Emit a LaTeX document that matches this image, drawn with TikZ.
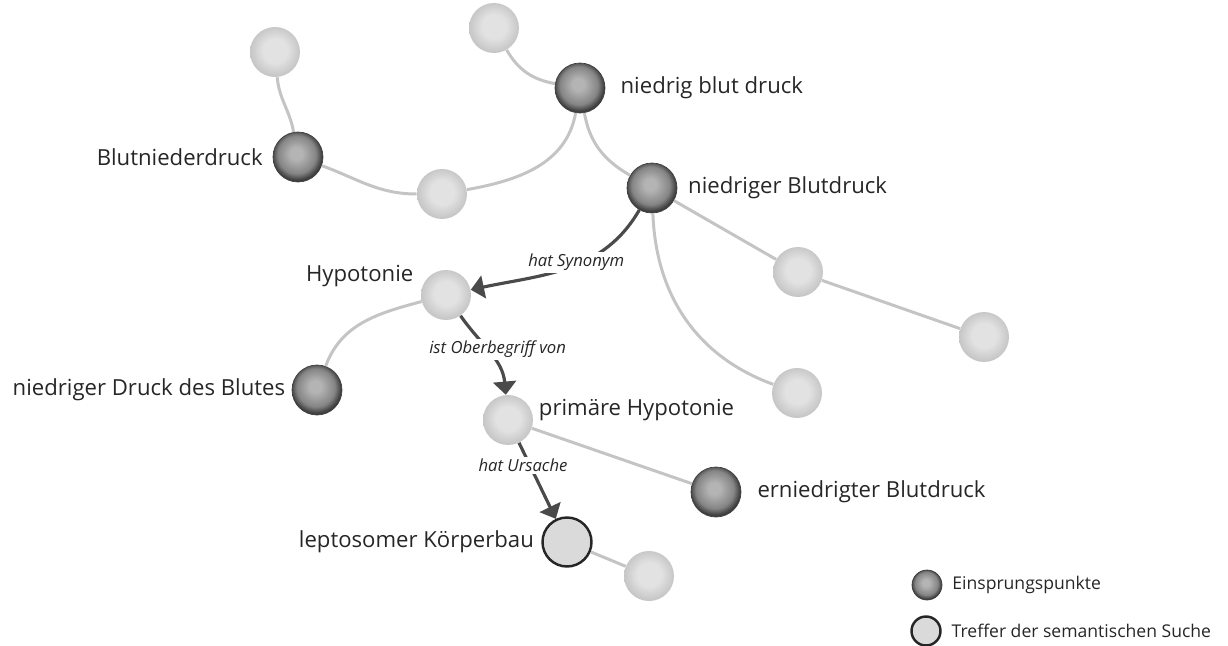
\documentclass[tikz,border=0pt]{standalone}
\usepackage{fontspec}
\setmainfont{Open Sans}
\usepackage{xcolor}
\definecolor{darkhi}{HTML}{B4B4B4}
\definecolor{darkmid}{HTML}{858585}
\definecolor{darkrim}{HTML}{3E3E3E}
\definecolor{lighthi}{HTML}{E2E2E2}
\definecolor{lightrim}{HTML}{C6C6C6}
\definecolor{hitfill}{HTML}{DADADA}
\definecolor{edgegray}{HTML}{C4C4C4}
\definecolor{arrgray}{HTML}{4A4A4A}
\definecolor{textgray}{HTML}{262626}
\usetikzlibrary{arrows.meta, positioning}
\pgfdeclareradialshading{darkball}{\pgfpoint{-2bp}{4bp}}{color(0bp)=(darkhi); color(6bp)=(darkhi); color(19bp)=(darkmid); color(25bp)=(darkrim); color(50bp)=(darkrim)}
\pgfdeclareradialshading{lightball}{\pgfpoint{0bp}{2bp}}{color(0bp)=(lighthi); color(12bp)=(lighthi); color(25bp)=(lightrim); color(50bp)=(lightrim)}

\begin{document}
\begin{tikzpicture}[x=0.02cm, y=-0.02cm,
  dark/.style={circle, minimum size=1cm, inner sep=0pt, shade, shading=darkball, draw=darkrim, line width=0.4pt},
  light/.style={circle, minimum size=1cm, inner sep=0pt, shade, shading=lightball},
  hitnode/.style={circle, minimum size=0.98cm, inner sep=0pt, fill=hitfill, draw=black!85, line width=1.4pt},
  edge/.style={draw=edgegray, line width=1.7pt},
  arr/.style={draw=arrgray, line width=1.8pt, -{Triangle[length=7.5pt, width=13pt]}},
  lbl/.style={font=\fontsize{12.6}{15}\selectfont, text=textgray, inner sep=0pt},
  rel/.style={font=\fontsize{9.5}{11}\selectfont\itshape, text=textgray, fill=white, inner sep=1pt},
  leg/.style={font=\fontsize{10}{12}\selectfont, text=textgray, inner sep=0pt}]

\useasboundingbox (0,0) rectangle (1228,646);

% Knoten
\node[light] (l1) at (275,52) {};
\node[light] (l2) at (494,28) {};
\node[dark] (d1) at (580,88) {};
\node[dark] (d2) at (298,157) {};
\node[light] (l3) at (442,194) {};
\node[dark] (d3) at (652,188) {};
\node[light] (l4) at (446,295) {};
\node[light] (l5) at (798,272) {};
\node[light] (l6) at (984,337) {};
\node[light] (l7) at (797,393) {};
\node[dark] (d4) at (317,390) {};
\node[light] (l8) at (508,420) {};
\node[dark] (d5) at (716,492) {};
\node[hitnode] (hit) at (567,542) {};
\node[light] (l9) at (649,576) {};

% Beschriftungen
\node[lbl, right=8.5pt of d1] (d1txt) {niedrig blut druck};
\node[lbl, left=5.5pt of d2] (d2txt) {Blutniederdruck};
\node[lbl, right=6pt of d3] (d3txt) {niedriger Blutdruck};
\node[lbl, left=4pt of l4, yshift=11pt] (l4txt) {Hypotonie};
\node[lbl, left=3.5pt of d4] (d4txt) {niedriger Druck des Blutes};
\node[lbl, right=3pt of l8, yshift=5.5pt] (l8txt) {primäre Hypotonie};
\node[lbl, right=9pt of d5] (d5txt) {erniedrigter Blutdruck};
\node[lbl, left=4pt of hit] (hittxt) {leptosomer Körperbau};

% Kanten
\draw[edge] (l1) to[out=-85, in=100] (d2);
\draw[edge] (d2) to[out=-20, in=180] (l3);
\draw[edge] (l3) to[out=10, in=-100] (d1);
\draw[edge] (l2) to[out=-60, in=170] (d1);
\draw[edge] (d1) to[out=-80, in=150] (d3);
\draw[edge] (d3) -- (l5);
\draw[edge] (l5) -- (l6);
\draw[edge] (d3) to[out=-88, in=160] (l7);
\draw[edge] (l4) to[out=195, in=70] (d4);
\draw[edge] (l8) -- (d5);
\draw[edge] (hit) -- (l9);

% Relationen
\draw[arr] (d3) to[out=-120, in=12] node[rel, pos=0.42, xshift=-3pt] (syn) {hat Synonym} (l4);
\draw[arr] (l4) to[out=-55, in=95] node[rel, pos=0.45, xshift=6pt] (ober) {ist Oberbegriff von} (l8);
\draw[arr] (l8) -- node[rel, pos=0.3, xshift=-4pt] (urs) {hat Ursache} (hit);

% Legende
\node[dark, minimum size=0.6cm] (legd) at (927,585) {};
\node[hitnode, minimum size=0.58cm] (legh) at (926,631) {};
\node[leg, right=5.5pt of legd] (legdtxt) {Einsprungspunkte};
\node[leg, right=5.5pt of legh] (leghtxt) {Treffer der semantischen Suche};
\end{tikzpicture}
\end{document}
